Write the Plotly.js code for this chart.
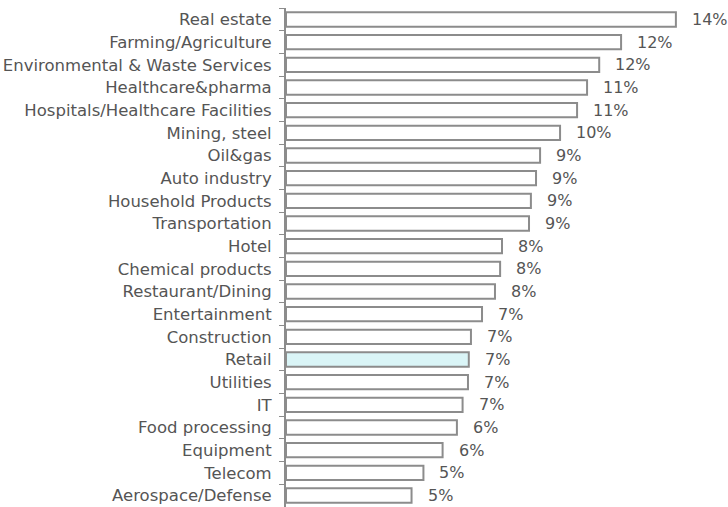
<!DOCTYPE html>
<html>
<head>
<meta charset="utf-8">
<script src="https://cdn.plot.ly/plotly-3.0.1.min.js"></script>
<style>html,body{margin:0;padding:0;background:#fff;}#chart{width:728px;height:507px;}</style>
</head>
<body>
<div id="chart"></div>
<script>
var categories = [
  "Real estate", "Farming/Agriculture", "Environmental & Waste Services",
  "Healthcare&pharma", "Hospitals/Healthcare Facilities", "Mining, steel",
  "Oil&gas", "Auto industry", "Household Products", "Transportation",
  "Hotel", "Chemical products", "Restaurant/Dining", "Entertainment",
  "Construction", "Retail", "Utilities", "IT", "Food processing",
  "Equipment", "Telecom", "Aerospace/Defense"
];
var values = [
  0.1444, 0.1241, 0.1160, 0.1115, 0.1078, 0.1015,
  0.0941, 0.0926, 0.0907, 0.0900,
  0.0800, 0.0793, 0.0774, 0.0726,
  0.0685, 0.0677, 0.0674, 0.0654, 0.0633,
  0.0580, 0.0509, 0.0465
];
var highlight = "Retail";

var fills = categories.map(function(c){ return c === highlight ? "#daf5f7" : "#ffffff"; });

var trace = {
  type: "bar",
  orientation: "h",
  y: categories,
  x: values,
  marker: { color: fills, line: { color: "#8c8c8c", width: 2 } },
  hoverinfo: "none"
};

var FONT = "DejaVu Sans, Verdana, sans-serif";

var annotations = categories.map(function(c, i){
  return {
    x: values[i], y: c, xref: "x", yref: "y",
    text: Math.round(values[i] * 100) + "%",
    showarrow: false, xanchor: "left", yanchor: "middle",
    xshift: 14, yshift: 0,
    font: { family: FONT, size: 16, color: "#555555" }
  };
});

var layout = {
  width: 728, height: 507,
  margin: { l: 286, r: 0, t: 8, b: 0 },
  paper_bgcolor: "#ffffff", plot_bgcolor: "#ffffff",
  showlegend: false,
  bargap: 0.37,
  font: { family: FONT, size: 16, color: "#555555" },
  xaxis: { range: [0, 0.1637], visible: false, fixedrange: true },
  yaxis: {
    type: "category",
    autorange: "reversed",
    showline: true, linecolor: "#8c8c8c", linewidth: 2,
    ticks: "outside", ticklen: 5, tickcolor: "#8c8c8c", tickwidth: 1,
    tickson: "boundaries",
    showgrid: false, zeroline: false,
    tickfont: { family: FONT, size: 16.5, color: "#555555" },
    ticklabelstandoff: 9
  },
  annotations: annotations
};

Plotly.newPlot("chart", [trace], layout, { displayModeBar: false, staticPlot: true });
</script>
</body>
</html>
